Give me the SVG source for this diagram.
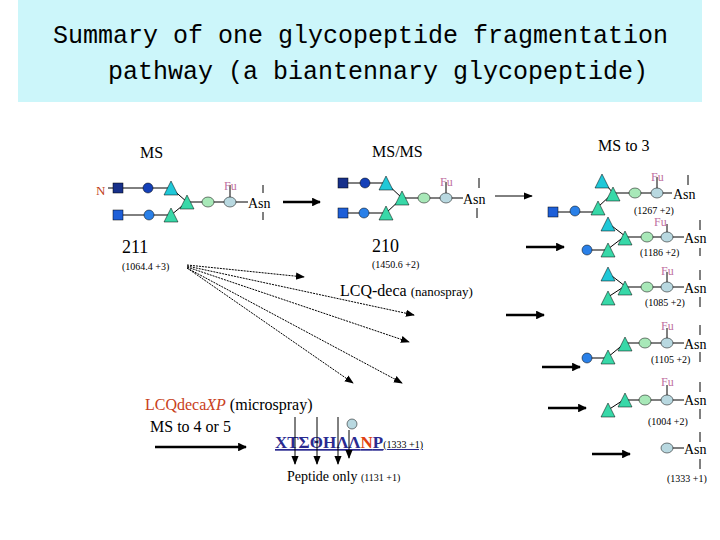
<svg xmlns="http://www.w3.org/2000/svg" width="720" height="540" viewBox="0 0 720 540">
<defs>
<style>
.t{font-family:"Liberation Serif",serif}
.s{font-family:"Liberation Serif",serif;font-size:10px;fill:#000}
.fu{font-family:"Liberation Serif",serif;font-size:12px;fill:#c070a0}
.ln{stroke:#000;stroke-width:1;fill:none}
.sqd{fill:#17308a;stroke:#000;stroke-width:0.5}
.sqb{fill:#1e5fd8;stroke:#000;stroke-width:0.5}
.cd{fill:#1440b8;stroke:#000;stroke-width:0.5}
.cb{fill:#2a80e8;stroke:#000;stroke-width:0.5}
.tc{fill:#20c8d8;stroke:#000;stroke-width:0.5}
.tg{fill:#38d8a8;stroke:#000;stroke-width:0.5}
.og{fill:#a8e8b8;stroke:#000;stroke-width:0.5}
.ob{fill:#b8d8e0;stroke:#000;stroke-width:0.5}
.ar{stroke:#000;stroke-width:2.5;fill:none}
.dt{stroke:#000;stroke-width:1;stroke-dasharray:2 1;fill:none}
</style>
<marker id="ah" viewBox="0 0 10 10" refX="9" refY="5" markerWidth="3.5" markerHeight="3.5" orient="auto"><path d="M0,0L10,5L0,10z" fill="#000"/></marker>
<marker id="ah2" viewBox="0 0 10 10" refX="9" refY="5" markerWidth="9" markerHeight="9" orient="auto"><path d="M0,1L10,5L0,9z" fill="#000"/></marker>
<path id="tri" d="M0,-9L7,5L-7,5z"/>
</defs>
<rect x="18" y="0" width="684" height="102" fill="#ccf6fa"/>
<g id="title" font-family="Liberation Mono,monospace" font-size="25" fill="#000">
<text x="53" y="43">Summary of one glycopeptide fragmentation</text>
<text x="108" y="79">pathway (a biantennary glycopeptide)</text>
</g>
<g id="labels" fill="#000">
<text class="t" x="140" y="158" font-size="16">MS</text>
<text class="t" x="372" y="157" font-size="16">MS/MS</text>
<text class="t" x="598" y="151" font-size="16">MS to 3</text>
<text class="t" x="122" y="253" font-size="18">211</text>
<text class="s" x="122" y="270">(1064.4 +3)</text>
<text class="t" x="372" y="252" font-size="18">210</text>
<text class="s" x="372" y="268">(1450.6 +2)</text>
<text class="t" x="340" y="296" font-size="16">LCQ-deca <tspan font-size="13">(nanospray)</tspan></text>
<text class="t" x="145" y="410" font-size="16"><tspan style="fill:#c84020">LCQdeca</tspan><tspan style="fill:#c84020" font-style="italic">XP</tspan> (microspray)</text>
<text class="t" x="150" y="432" font-size="16">MS to 4 or 5</text>
<text class="t" x="275" y="448" font-size="17" font-weight="bold" style="fill:#2a2a90" text-decoration="underline">ΧΤΣΘΗΛΛ<tspan style="fill:#e04010">Ν</tspan>Ρ<tspan font-size="10" font-weight="normal" style="fill:#000">(1333 +1)</tspan></text>
<text class="t" x="287" y="481" font-size="14">Peptide only <tspan font-size="10">(1131 +1)</tspan></text>
</g>
<g id="glycan211">
<text x="96" y="195" font-family="Liberation Serif,serif" font-size="13" fill="#c04020">N</text>
<path class="ln" d="M108,188H171M118,215H171M171,188L187,202M171,215L187,202M187,202H230M230,202V185M230,202H248"/>
<rect class="sqd" x="113" y="183" width="10" height="10"/><circle class="cd" cx="148" cy="188" r="5"/><use href="#tri" class="tc" x="171" y="190"/>
<rect class="sqb" x="113" y="210" width="10" height="10"/><circle class="cb" cx="149" cy="215" r="5"/><use href="#tri" class="tg" x="171" y="217"/>
<use href="#tri" class="tg" x="187" y="204"/><ellipse class="og" cx="208" cy="202" rx="6" ry="5"/><ellipse class="ob" cx="230" cy="202" rx="6" ry="5"/>
<text class="fu" x="224" y="190">Fu</text>
<text class="t" x="248" y="208" font-size="14">Asn</text>
<path class="ln" d="M263,185V193M263,212V220"/>
</g>
<g id="glycan210">
<path class="ln" d="M343,183H386M343,213H386M386,183L402,198M386,213L402,198M402,198H446M446,198V182M446,198H463"/>
<rect class="sqd" x="338" y="178" width="10" height="10"/><circle class="cd" cx="365" cy="183" r="5"/><use href="#tri" class="tc" x="386" y="185"/>
<rect class="sqb" x="338" y="208" width="10" height="10"/><circle class="cb" cx="364" cy="213" r="5"/><use href="#tri" class="tg" x="386" y="215"/>
<use href="#tri" class="tg" x="402" y="200"/><ellipse class="og" cx="424" cy="198" rx="6" ry="5"/><ellipse class="ob" cx="446" cy="198" rx="6" ry="5"/>
<text class="fu" x="440" y="186">Fu</text>
<text class="t" x="463" y="204" font-size="14">Asn</text>
<path class="ln" d="M479,178V188M477,208V218"/>
</g>
<g id="g1267">
<path class="ln" d="M553,212H598M602,180L613,193M598,207L613,193M613,193H672M657,193V177"/>
<use href="#tri" class="tc" x="602" y="183"/>
<rect class="sqb" x="548" y="207" width="10" height="10"/><circle class="cb" cx="575" cy="211" r="5"/><use href="#tri" class="tg" x="598" y="210"/>
<use href="#tri" class="tg" x="613" y="196"/><ellipse class="og" cx="635" cy="193" rx="6" ry="5"/><ellipse class="ob" cx="657" cy="193" rx="6" ry="5"/>
<text class="fu" x="651" y="181">Fu</text>
<text class="t" x="673" y="199" font-size="14">Asn</text>
<path class="ln" d="M688,175V185"/>
<text class="s" x="634" y="214">(1267  +2)</text>
</g>
<g id="g1186">
<path class="ln" d="M587,250H608M608,223L625,236M608,249L625,236M625,237H684M667,237V224"/>
<use href="#tri" class="tc" x="608" y="226"/>
<circle class="cb" cx="587" cy="250" r="5"/><use href="#tri" class="tg" x="608" y="252"/>
<use href="#tri" class="tg" x="625" y="240"/><ellipse class="og" cx="647" cy="237" rx="6" ry="5"/><ellipse class="ob" cx="667" cy="237" rx="6" ry="5"/>
<text class="fu" x="654" y="226">Fu</text>
<text class="t" x="684" y="243" font-size="14">Asn</text>
<path class="ln" d="M700,220V230M700,248V256"/>
<text class="s" x="640" y="256">(1186  +2)</text>
</g>
<g id="g1085">
<path class="ln" d="M608,273L625,286M608,297L625,286M625,287H684M667,287V272"/>
<use href="#tri" class="tc" x="608" y="276"/><use href="#tri" class="tg" x="608" y="300"/>
<use href="#tri" class="tg" x="625" y="290"/><ellipse class="og" cx="647" cy="287" rx="6" ry="5"/><ellipse class="ob" cx="667" cy="287" rx="6" ry="5"/>
<text class="fu" x="661" y="275">Fu</text>
<text class="t" x="684" y="293" font-size="14">Asn</text>
<path class="ln" d="M700,270V280M700,297V307"/>
<text class="s" x="645" y="306">(1085 +2)</text>
</g>
<g id="g1105">
<path class="ln" d="M587,358H608M608,357L625,343M625,343H684M667,343V328"/>
<circle class="cb" cx="587" cy="358" r="5"/><use href="#tri" class="tg" x="608" y="359"/>
<use href="#tri" class="tg" x="625" y="346"/><ellipse class="og" cx="645" cy="343" rx="6" ry="5"/><ellipse class="ob" cx="667" cy="343" rx="6" ry="5"/>
<text class="fu" x="661" y="330">Fu</text>
<text class="t" x="684" y="349" font-size="14">Asn</text>
<path class="ln" d="M700,325V335M700,352V362"/>
<text class="s" x="651" y="363">(1105 +2)</text>
</g>
<g id="g1004">
<path class="ln" d="M608,410L625,399M625,400H684M667,400V385"/>
<use href="#tri" class="tg" x="608" y="412"/>
<use href="#tri" class="tg" x="625" y="402"/><ellipse class="og" cx="645" cy="400" rx="6" ry="5"/><ellipse class="ob" cx="667" cy="400" rx="6" ry="5"/>
<text class="fu" x="661" y="386">Fu</text>
<text class="t" x="684" y="405" font-size="14">Asn</text>
<path class="ln" d="M700,382V392M700,409V419"/>
<text class="s" x="648" y="425">(1004 +2)</text>
</g>
<g id="g1333">
<path class="ln" d="M667,448H684"/>
<ellipse class="ob" cx="667" cy="448" rx="6" ry="5"/>
<text class="t" x="684" y="454" font-size="14">Asn</text>
<path class="ln" d="M700,432V442M700,459V469"/>
<text class="s" x="667" y="482">(1333 +1)</text>
</g>
<g id="connectors">
<path class="ar" marker-end="url(#ah)" d="M283,202H320"/>
<path class="ln" stroke-width="1.5" marker-end="url(#ah2)" d="M495,196H532"/>
<path class="ar" marker-end="url(#ah)" d="M526,247H564"/>
<path class="ar" marker-end="url(#ah)" d="M506,315H544"/>
<path class="ar" marker-end="url(#ah)" d="M542,367H580"/>
<path class="ar" marker-end="url(#ah)" d="M548,408H586"/>
<path class="ar" marker-end="url(#ah)" d="M592,454H630"/>
<path class="ar" marker-end="url(#ah)" d="M155,447H246"/>
<path class="dt" marker-end="url(#ah2)" d="M187,265L304,277"/>
<path class="dt" marker-end="url(#ah2)" d="M187,266L414,315"/>
<path class="dt" marker-end="url(#ah2)" d="M187,267L409,342"/>
<path class="dt" marker-end="url(#ah2)" d="M187,268L353,383"/>
<path class="dt" marker-end="url(#ah2)" d="M187,268L402,383"/>
<path class="ln" marker-end="url(#ah2)" d="M295,417V464"/>
<path class="ln" stroke-width="2" marker-end="url(#ah2)" d="M317,417V464"/>
<path class="ln" marker-end="url(#ah2)" d="M338,417V464"/>
<path class="ln" marker-end="url(#ah2)" d="M349,430V458"/>
<circle class="ob" cx="352" cy="424" r="5"/>
</g>
</svg>
